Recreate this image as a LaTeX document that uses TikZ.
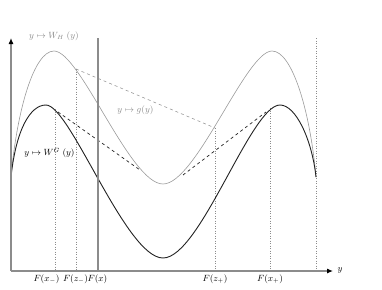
\documentclass[tikz,border=0pt]{standalone}
\usetikzlibrary{arrows.meta}
\definecolor{axisgray}{HTML}{8C8C8C}
\definecolor{curvegray}{HTML}{9A9A9A}
\definecolor{textgray}{HTML}{8A8A8A}
\definecolor{darkcurve}{HTML}{222222}
\begin{document}
\begin{tikzpicture}[x=1pt,y=-1pt,
  axisline/.style={draw=axisgray,line width=1.1pt},
  guide/.style={draw=axisgray,dotted,line width=0.5pt},
  graycurve/.style={draw=curvegray,line width=0.6pt},
  blackcurve/.style={draw=darkcurve,line width=0.9pt},
  graydash/.style={draw=curvegray,dashed,line width=0.6pt},
  blackdash/.style={draw=darkcurve,dashed,line width=0.7pt},
  lab/.style={inner sep=0pt,font=\small},
  graylab/.style={lab,text=textgray}]
\useasboundingbox (0,0) rectangle (382,289);
% coordinates
\coordinate (O) at (11,271);
\coordinate (Ytop) at (11,38);
\coordinate (Xend) at (333,271);
\coordinate (Fxtop) at (98,38);
\coordinate (Fxbot) at (98,271);
\coordinate (Rtop) at (316,38);
\coordinate (Rbot) at (316,271);
\coordinate (xm) at (55,109);
\coordinate (xmb) at (55,271);
\coordinate (zm) at (76,69);
\coordinate (zmb) at (76,271);
\coordinate (zp) at (215,128);
\coordinate (zpb) at (215,271);
\coordinate (xp) at (270,108);
\coordinate (xpb) at (270,271);
\coordinate (bd1) at (58,112);
\coordinate (bd2) at (140,170);
\coordinate (bd3) at (183,175);
\coordinate (bd4) at (266,112);
% guides
\draw[guide] (xm) -- (xmb);
\draw[guide] (zm) -- (zmb);
\draw[guide] (zp) -- (zpb);
\draw[guide] (xp) -- (xpb);
\draw[guide] (Rtop) -- (Rbot);
% curves
\draw[graycurve] (11,177) .. controls (17,110) and (34,51) .. (54,51)
  .. controls (80,51) and (130,184) .. (163,184)
  .. controls (196,184) and (246,51) .. (272,51)
  .. controls (292,51) and (310,110) .. (316,177);
\draw[blackcurve] (11,177) .. controls (16,130) and (30,105) .. (46,105)
  .. controls (70,105) and (126,258) .. (163,258)
  .. controls (200,258) and (251,105) .. (280,105)
  .. controls (296,105) and (312,140) .. (316,177);
% dashed
\draw[graydash] (zm) -- (zp);
\draw[blackdash] (bd1) -- (bd2);
\draw[blackdash] (bd3) -- (bd4);
% axes
\draw[axisline] (Fxbot) -- (Fxtop);
\draw[axisline,-{Latex[color=black,length=6pt,width=5pt]}] (O) -- (Ytop);
\draw[axisline,-{Latex[color=black,length=6pt,width=5pt]}] (O) -- (Xend);
% labels
\node[graylab] (lWH) at (54,36) {$y\mapsto W_H\;(y)$};
\node[graylab] (lg) at (135.5,110) {$y\mapsto g(y)$};
\node[lab] (lWG) at (49.5,153) {$y\mapsto W^G\;(y)$};
\node[lab] (lxm) at (46.5,279) {$F(x_-)$};
\node[lab] (lzm) at (75.5,279) {$F(z_-)$};
\node[lab] (lx) at (97.5,279) {$F(x)$};
\node[lab] (lzp) at (215,279) {$F(z_+)$};
\node[lab] (lxp) at (270,279) {$F(x_+)$};
\node[lab] (ly) at (340,270) {$y$};
\end{tikzpicture}
\end{document}
